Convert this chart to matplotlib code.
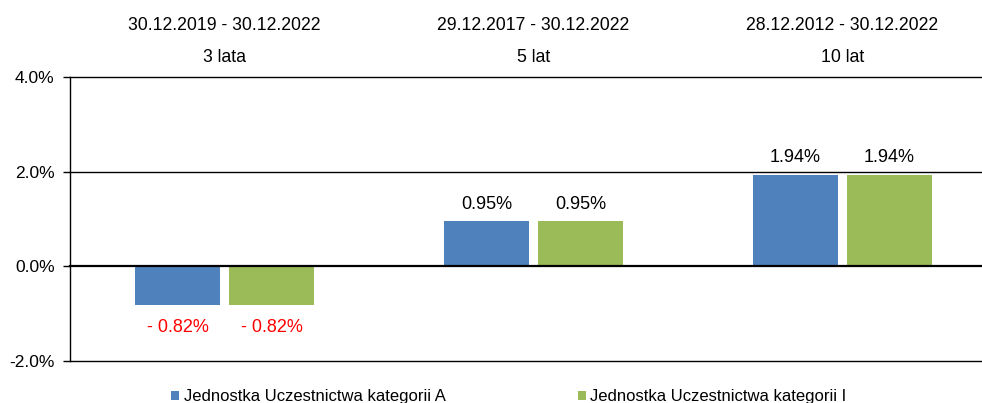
import matplotlib
matplotlib.use("Agg")
import matplotlib.pyplot as plt
from matplotlib.patches import Patch
from matplotlib.transforms import blended_transform_factory

plt.rcParams['font.family'] = ['Liberation Sans', 'DejaVu Sans']

periods = ["30.12.2019 - 30.12.2022", "29.12.2017 - 30.12.2022", "28.12.2012 - 30.12.2022"]
durations = ["3 lata", "5 lat", "10 lat"]
series_names = ["Jednostka Uczestnictwa kategorii A", "Jednostka Uczestnictwa kategorii I"]
values_a = [-0.82, 0.95, 1.94]
values_i = [-0.82, 0.95, 1.94]
yticks = [-2.0, 0.0, 2.0, 4.0]
colors = ["#4F81BD", "#9BBB59"]

fig = plt.figure(figsize=(9.82, 4.03), dpi=100)
ax = fig.add_axes([70/982, 1-361/403, 927/982, 284/403])

x = list(range(len(periods)))
width = 0.275
offset = 0.152
for vals, off, col in [(values_a, -offset, colors[0]), (values_i, offset, colors[1])]:
    xs = [xi + off for xi in x]
    ax.bar(xs, vals, width=width, color=col, zorder=3)
    for xv, v in zip(xs, vals):
        if v >= 0:
            ax.text(xv, v + 0.36, f"{v:.2f}%", ha='center', va='center',
                    fontsize=13, color='black')
        else:
            ax.text(xv, v - 0.47, f"- {abs(v):.2f}%", ha='center', va='center',
                    fontsize=13, color='#FF0000')

ax.set_xlim(-0.5, len(periods) - 0.5)
ax.set_ylim(-2.0, 4.0)
ax.set_yticks(yticks)
ax.set_yticklabels([f"{t:.1f}%" for t in yticks], fontsize=12.5)
ax.tick_params(axis='y', direction='out', length=5, width=1, pad=6, colors='black')
ax.set_xticks([])
for t in yticks:
    ax.axhline(t, color='black', lw=1.0 if t != 0 else 1.6,
               zorder=4 if t == 0 else 1, clip_on=False)
for s in ['top', 'right', 'bottom']:
    ax.spines[s].set_visible(False)
ax.spines['left'].set_linewidth(1.0)

trans = blended_transform_factory(ax.transData, fig.transFigure)
for xi, p, d in zip(x, periods, durations):
    ax.text(xi, 1 - 25/403, p, transform=trans, ha='center', va='center', fontsize=12.7)
    ax.text(xi, 1 - 58/403, d, transform=trans, ha='center', va='center', fontsize=12.7)

handles = [Patch(facecolor=c, edgecolor='none') for c in colors]
fig.legend(handles, series_names, loc='center left', bbox_to_anchor=(171/982, 1 - 397/403),
           ncol=2, frameon=False, fontsize=12, handlelength=0.5, handleheight=0.5,
           handletextpad=0.25, columnspacing=7.95, borderpad=0, borderaxespad=0)

fig.savefig("out.png", dpi=100)
